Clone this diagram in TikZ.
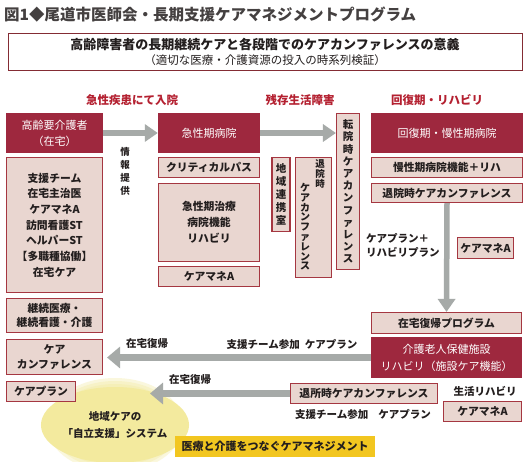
\documentclass[tikz,border=0pt]{standalone}
\usepackage{fontspec}
\setmainfont{Noto Sans CJK JP}
\usetikzlibrary{arrows.meta,shapes.geometric}
\definecolor{kdark}{RGB}{158,40,62}
\definecolor{kpink}{RGB}{233,214,208}
\definecolor{kline}{RGB}{165,55,65}
\definecolor{kred}{RGB}{180,32,48}
\definecolor{kgray}{RGB}{166,170,168}
\definecolor{kgold}{RGB}{242,198,32}
\definecolor{kblob}{RGB}{243,234,158}
\definecolor{ktext}{RGB}{35,30,30}
\tikzset{
  darkbox/.style={fill=kdark,text=white,inner sep=0pt,align=center,font=\fontsize{11}{16}\selectfont},
  pinkbox/.style={fill=kpink,draw=kline,line width=1.1pt,inner sep=0pt,align=center,text=ktext,font=\bfseries\fontsize{10.8}{15.7}\selectfont},
  vbox/.style={pinkbox,font=\bfseries\fontsize{10.5}{12.2}\selectfont},
  flow/.style={draw=kgray,line width=5.5pt,-{Triangle[width=17pt,length=13pt]}},
  bigflow/.style={flow,line width=7.5pt,-{Triangle[width=21pt,length=13pt]}},
  head/.style={text=kred,inner sep=0pt,font=\bfseries\fontsize{11.5}{13}\selectfont},
  lbl/.style={text=ktext,inner sep=0pt,align=center,font=\bfseries\fontsize{10.5}{14}\selectfont}
}
\begin{document}
\begin{tikzpicture}[x=1pt,y=-1pt]
\path[use as bounding box,fill=white] (0,0) rectangle (530,461);
\foreach \s in {9,6,3}
  \fill[kblob,opacity=.35] (115,425) ellipse[x radius=59+\s,y radius=38+\s];
\node[ellipse,fill=kblob,minimum width=118pt,minimum height=76pt,inner sep=0pt,lbl,font=\bfseries\fontsize{10.5}{17}\selectfont] (blob) at (115,425) {地域ケアの\\「自立支援」システム};
\node[fill=kgold,minimum width=200pt,minimum height=21pt,inner sep=0pt,text=ktext,font=\bfseries\fontsize{11}{13}\selectfont] (gold) at (275,446.5) {医療と介護をつなぐケアマネジメント};

\node[anchor=west,inner sep=0pt,text=ktext!85,font=\bfseries\fontsize{15.5}{17}\selectfont] (title) at (4,15) {図1◆尾道市医師会・長期支援ケアマネジメントプログラム};
\node[draw=kline!80!black,line width=1pt,minimum width=514pt,minimum height=37pt,inner sep=0pt,align=center,text=ktext,font=\fontsize{11.5}{15}\selectfont] (theme) at (265,51.5) {{\bfseries\fontsize{13}{15}\selectfont 高齢障害者の長期継続ケアと各段階でのケアカンファレンスの意義}\\（適切な医療・介護資源の投入の時系列検証）};

\node[head] (h1) at (132,100) {急性疾患にて入院};
\node[head] (h2) at (300,100) {残存生活障害};
\node[head] (h3) at (437,100) {回復期・リハビリ};

\node[darkbox,minimum width=97pt,minimum height=40pt] (home) at (54.5,133) {高齢要介護者\\（在宅）};
\node[pinkbox,minimum width=96pt,minimum height=135pt] (team) at (54.5,225) {支援チーム\\在宅主治医\\ケアマネA\\訪問看護ST\\ヘルパーST\\【多職種協働】\\在宅ケア};
\node[pinkbox,minimum width=96pt,minimum height=34pt,font=\bfseries\fontsize{10.8}{14}\selectfont] (cont) at (54.5,315.5) {継続医療・\\継続看護・介護};
\node[pinkbox,minimum width=96pt,minimum height=35pt,font=\bfseries\fontsize{10.8}{15}\selectfont] (conf) at (54.5,357) {ケア\\カンファレンス};
\node[pinkbox,minimum width=69pt,minimum height=20pt] (plan) at (41,391.5) {ケアプラン};

\node[darkbox,minimum width=102pt,minimum height=40pt] (acute) at (209,133) {急性期病院};
\node[pinkbox,minimum width=101pt,minimum height=20pt] (cpath) at (209,167.5) {クリティカルパス};
\node[pinkbox,minimum width=101pt,minimum height=78pt,font=\bfseries\fontsize{10.8}{16}\selectfont] (func) at (209,222.5) {急性期治療\\病院機能\\リハビリ};
\node[pinkbox,minimum width=101pt,minimum height=20pt] (cmA1) at (209,276.5) {ケアマネA};

\node[vbox,minimum width=18pt,minimum height=74pt,font=\bfseries\fontsize{10.5}{13}\selectfont] (chiiki) at (281,194.5) {地\\域\\連\\携\\室};
\node[vbox,minimum width=36pt,minimum height=120pt] (tdis) at (313.5,217.5) {};
\node[lbl,anchor=north,font=\bfseries\fontsize{9.5}{10}\selectfont] (tdisA) at (320,159) {退\\院\\時};
\node[lbl,anchor=north,font=\bfseries\fontsize{10}{9.8}\selectfont] (tdisB) at (305,183) {ケ\\ア\\カ\\ン\\フ\\ァ\\レ\\ン\\ス};
\node[vbox,minimum width=23pt,minimum height=156pt] (tenin) at (348,191.5) {転\\院\\時\\ケ\\ア\\カ\\ン\\フ\\ァ\\レ\\ン\\ス};

\node[darkbox,minimum width=152pt,minimum height=40pt] (recov) at (447,133) {回復期・慢性期病院};
\node[pinkbox,minimum width=151pt,minimum height=20pt] (chron) at (447,167.5) {慢性期病院機能＋リハ};
\node[pinkbox,minimum width=151pt,minimum height=19pt] (rdis) at (447,193) {退院時ケアカンファレンス};
\node[lbl,anchor=west,align=left] (plans) at (366,245) {ケアプラン＋\\リハビリプラン};
\node[pinkbox,minimum width=56pt,minimum height=21pt] (cmA2) at (485.5,248) {ケアマネA};
\node[pinkbox,minimum width=150pt,minimum height=21pt] (zprog) at (446.5,323) {在宅復帰プログラム};
\node[darkbox,minimum width=151pt,minimum height=41pt,font=\fontsize{11}{17}\selectfont] (roken) at (446.5,357.5) {介護老人保健施設\\リハビリ（施設ケア機能）};
\node[pinkbox,minimum width=147pt,minimum height=20pt] (taisho) at (364,393.5) {退所時ケアカンファレンス};
\node[lbl] (seikatsu) at (485,391) {生活リハビリ};
\node[pinkbox,minimum width=78pt,minimum height=20pt] (cmA3) at (482.5,411.5) {ケアマネA};
\node[lbl] (sup2) at (363,414) {支援チーム参加\hspace{10pt}ケアプラン};

\node[lbl,font=\bfseries\fontsize{9.5}{13}\selectfont] (info) at (125,171) {情\\報\\提\\供};
\node[lbl] (sup1) at (292,344) {支援チーム参加\hspace{5pt}ケアプラン};
\node[lbl] (ret1) at (147,344) {在宅復帰};
\node[lbl] (ret2) at (190,380) {在宅復帰};
\coordinate (ret2end) at (150,393.5);

\draw[flow] (home.east) -- (acute.west);
\draw[flow] (acute.east) -- (acute.east -| tenin.west);
\draw[flow] (rdis.south) -- (zprog.north);
\draw[bigflow] (roken.west) -- ([xshift=4pt]roken.west -| conf.east);
\draw[bigflow] (taisho.west) -- (ret2end);
\end{tikzpicture}
\end{document}
